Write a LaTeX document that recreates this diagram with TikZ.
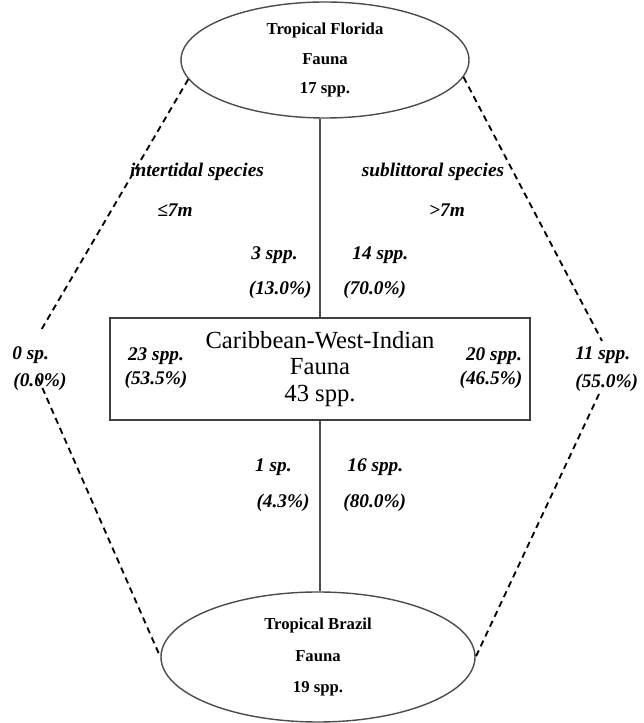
\documentclass[tikz,border=0pt]{standalone}
\usepackage{fontspec}
\setmainfont{Liberation Serif}
\usetikzlibrary{shapes.geometric,positioning}

\begin{document}
\begin{tikzpicture}[
    faunaoval/.style={ellipse, draw=black!70, line width=0.8pt, inner sep=0pt,
                      align=center, font=\fontsize{9.5}{17}\selectfont\bfseries},
    faunabox/.style={rectangle, draw=black!75, line width=0.8pt, minimum width=8.4cm,
                     minimum height=2.04cm, align=center, font=\fontsize{14}{15}\selectfont},
    lbl/.style={font=\fontsize{11}{13}\selectfont\bfseries\itshape, inner sep=0pt},
    link/.style={draw=black!70, line width=0.8pt},
    sharelink/.style={black, line width=1.05pt, dash pattern=on 3.6pt off 2.6pt}
  ]
    \useasboundingbox (0,0) rectangle (12.86,14.46);

    % Faunas
    \node[faunaoval, minimum width=5.76cm, minimum height=2.32cm] (flo) at (6.50,13.26)
      {Tropical Florida\\Fauna\\17 spp.};
    \node[faunabox] (cwi) at (6.40,7.08)
      {Caribbean-West-Indian\\Fauna\\43 spp.};
    \node[faunaoval, minimum width=6.28cm, minimum height=2.6cm,
          font=\fontsize{9.5}{18}\selectfont\bfseries] (bra) at (6.36,1.32)
      {Tropical Brazil\\Fauna\\19 spp.};

    % Solid links through the Caribbean box
    \draw[link] (cwi.north) -- (cwi.north |- flo.south);
    \draw[link] (cwi.south) -- (cwi.south |- bra.north);

    % Depth classes
    \node[lbl] (itd) at (3.94,11.02) {intertidal species};
    \node[lbl] (itdm) at (3.50,10.26) {≤7m};
    \node[lbl] (sub) at (8.66,11.02) {sublittoral species};
    \node[lbl] (subm) at (8.94,10.26) {>7m};

    % Florida shares
    \node[lbl, anchor=east] (fl1) at (5.96,9.36) {3 spp.};
    \node[lbl, anchor=east] (fl2) at (6.24,8.66) {(13.0\%)};
    \node[lbl, anchor=west] (fl3) at (7.04,9.36) {14 spp.};
    \node[lbl, anchor=west] (fl4) at (6.86,8.66) {(70.0\%)};

    % Brazil shares
    \node[lbl, anchor=east] (br1) at (5.84,5.12) {1 sp.};
    \node[lbl, anchor=east] (br2) at (6.20,4.40) {(4.3\%)};
    \node[lbl, anchor=west] (br3) at (6.94,5.12) {16 spp.};
    \node[lbl, anchor=west] (br4) at (6.86,4.40) {(80.0\%)};

    % Caribbean split
    \node[lbl] (cw1) at (3.12,7.34) {23 spp.};
    \node[lbl] (cw2) at (3.12,6.86) {(53.5\%)};
    \node[lbl] (cw3) at (9.88,7.34) {20 spp.};
    \node[lbl] (cw4) at (9.82,6.86) {(46.5\%)};

    % Florida-Brazil shared species
    \node[lbl, anchor=west] (fb1) at (0.24,7.36) {0 sp.};
    \node[lbl, anchor=west] (fb2) at (0.26,6.82) {(0.0\%)};
    \node[lbl, anchor=west] (fb3) at (11.50,7.36) {11 spp.};
    \node[lbl, anchor=west] (fb4) at (11.50,6.80) {(55.0\%)};

    \coordinate (lt) at (0.80,7.82);
    \coordinate (lb) at (0.76,6.90);
    \coordinate (rt) at (12.04,7.64);
    \coordinate (rb) at (11.98,6.58);

    \draw[sharelink] (flo.188) -- (lt);
    \draw[sharelink] (lb) -- (bra.180);
    \draw[sharelink] (flo.-7) -- (rt);
    \draw[sharelink] (rb) -- (bra.0);
  \end{tikzpicture}
\end{document}
